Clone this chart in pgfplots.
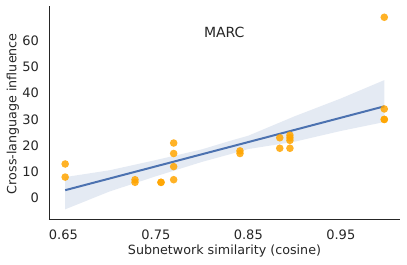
\documentclass[border=0pt]{standalone}
\usepackage{pgfplots}
\pgfplotsset{compat=1.18}
\usepackage{fontspec}
\setmainfont{DejaVu Sans}
\definecolor{sbblue}{HTML}{4C72B0}
\definecolor{ptorange}{HTML}{FFA500}
\definecolor{spine}{HTML}{262626}
\begin{document}
\begin{tikzpicture}[x=1pt,y=1pt]
\useasboundingbox (-49pt,-46pt) rectangle (358pt,219pt);
\begin{axis}[
  at={(0pt,0pt)}, anchor=south west,
  /pgf/number format/assume math mode=true,
  scale only axis,
  width=351pt, height=213pt,
  xmin=0.6345, xmax=1.014,
  ymin=-8, ymax=73.3,
  axis x line*=bottom, axis y line*=left,
  axis line style={spine, line width=0.9pt},
  xtick={0.65,0.75,0.85,0.95},
  xticklabels={0.65,0.75,0.85,0.95},
  ytick={0,10,20,30,40,50,60},
  major tick length=0pt,
  tick label style={font=\fontsize{13}{15}\selectfont, text=spine, inner sep=0pt},
  xticklabel style={anchor=center, yshift=-16pt},
  yticklabel style={anchor=east, xshift=-10pt},
  label style={font=\fontsize{12.7}{15}\selectfont, text=spine},
  xlabel={Subnetwork similarity (cosine)},
  ylabel={Cross-language influence},
  xlabel style={at={(axis description cs:0.5,-0.149)}, anchor=center},
  ylabel style={at={(axis description cs:-0.1026,0.494)}, anchor=center},
  clip=false,
]
\addplot[draw=none, fill=sbblue, fill opacity=0.15] coordinates {
(0.652,8) (0.70,10.6) (0.75,14.5) (0.80,18.6) (0.83,21.8) (0.85,23.8) (0.90,31.2) (0.95,38) (0.997,45)
(0.997,29) (0.95,25.6) (0.90,21.5) (0.85,18.7) (0.83,16.7) (0.80,13.8) (0.75,8.3) (0.70,2.5) (0.652,-4.3)
} -- cycle;
\addplot[only marks, color=ptorange, mark=*, mark size=3.8pt, mark options={solid, fill=ptorange, draw opacity=0, fill opacity=0.85}] coordinates {
(0.652,13) (0.652,8)
(0.7275,7) (0.7275,6)
(0.7556,6) (0.7556,6)
(0.7693,21) (0.7693,17) (0.7693,12) (0.7693,7)
(0.841,18) (0.841,17)
(0.884,23) (0.884,19)
(0.895,24) (0.895,23) (0.895,22) (0.895,19)
(0.997,69) (0.997,34) (0.997,30) (0.997,30)
};
\addplot[sbblue, line width=2pt] coordinates {(0.652,3) (0.997,35)};
\node[font=\fontsize{14}{16}\selectfont, text=spine] at (axis cs:0.824,63.4) {MARC};
\end{axis}
\end{tikzpicture}
\end{document}
